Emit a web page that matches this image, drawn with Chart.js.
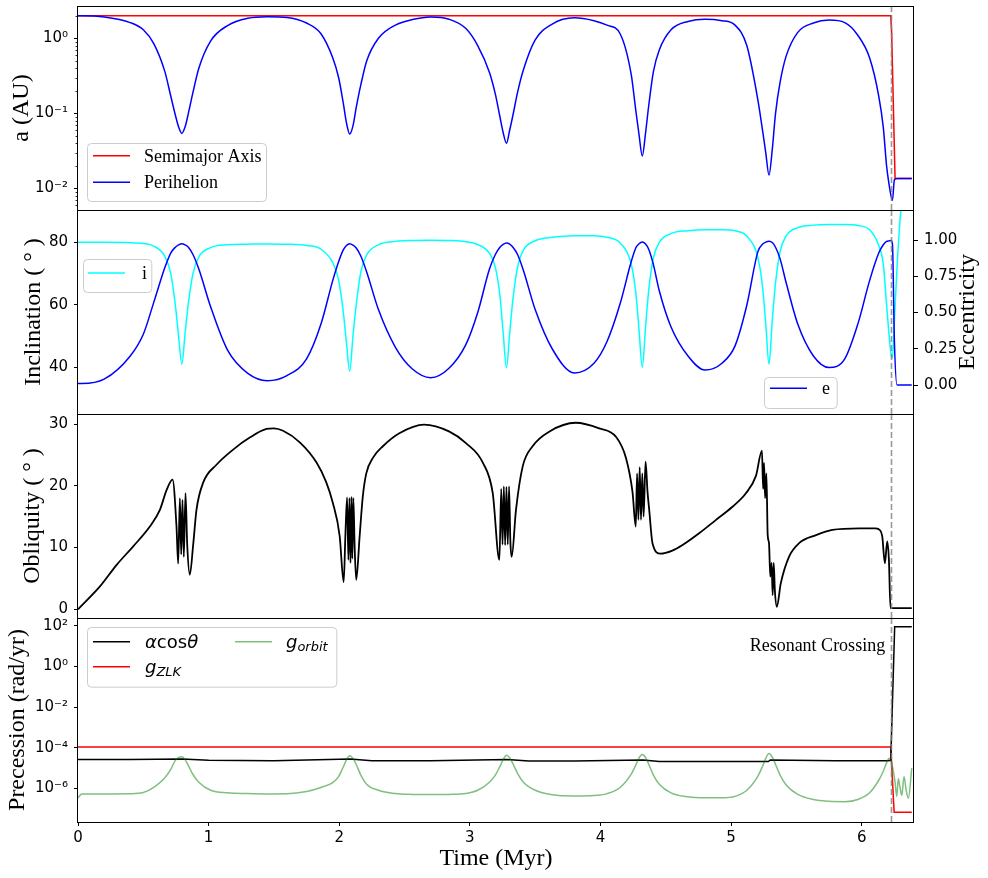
<!DOCTYPE html>
<html>
<head>
<meta charset="utf-8">
<title>Resonant crossing</title>
<script src="https://cdn.jsdelivr.net/npm/chart.js@4.4.1/dist/chart.umd.min.js"></script>
<style>
  body { margin: 0; background: #fff; }
  #fig { position: relative; width: 988px; height: 878px; overflow: hidden; background: #fff; }
  #fig canvas { position: absolute; left: 0; }
</style>
</head>
<body>
<div id="fig">
  <canvas id="pA" width="988" height="244" style="top:-14px"></canvas>
  <canvas id="pI" width="988" height="244" style="top:190px"></canvas>
  <canvas id="pO" width="988" height="244" style="top:394px"></canvas>
  <canvas id="pP" width="988" height="280" style="top:598px"></canvas>
</div>
<script>
// values (time in Myr)

const crossingT = 6.224;
const xTicks = [0, 1, 2, 3, 4, 5, 6];

const timeGrid = [0, 0.03, 0.2, 0.4, 0.5, 0.58, 0.665, 0.71, 0.745, 0.77,
  0.795, 0.82, 0.845, 0.88, 0.925, 1.015, 1.145, 1.3, 1.45, 1.6,
  1.75, 1.86, 1.95, 1.995, 2.03, 2.055, 2.08, 2.105, 2.13, 2.165,
  2.21, 2.3, 2.43, 2.56, 2.7, 2.84, 2.97, 3.06, 3.15, 3.195,
  3.23, 3.255, 3.28, 3.305, 3.33, 3.365, 3.41, 3.5, 3.63, 3.8,
  3.95, 4.05, 4.15, 4.235, 4.27, 4.295, 4.32, 4.345, 4.37, 4.405,
  4.45, 4.54, 4.67, 4.8, 4.93, 5.03, 5.12, 5.205, 5.24, 5.265,
  5.29, 5.315, 5.34, 5.375, 5.42, 5.51, 5.63, 5.75, 5.87, 5.97,
  6.06, 6.13, 6.165, 6.19, 6.21, 6.225, 6.235, 6.25, 6.27, 6.3, 6.383];

const perihelionAU = [2.0, 2.0, 1.93, 1.62, 1.3, 0.85, 0.36, 0.17, 0.095, 0.066,
  0.054, 0.066, 0.1, 0.19, 0.4, 0.92, 1.48, 1.85, 1.94, 1.9,
  1.6, 1.15, 0.55, 0.3, 0.14, 0.075, 0.053, 0.068, 0.12, 0.24,
  0.5, 1.0, 1.5, 1.78, 1.93, 1.8, 1.35, 0.8, 0.35, 0.18,
  0.09, 0.055, 0.04, 0.06, 0.095, 0.19, 0.38, 0.95, 1.55, 1.88,
  1.72, 1.5, 1.15, 0.33, 0.11, 0.052, 0.027, 0.055, 0.13, 0.36,
  0.7, 1.3, 1.68, 1.8, 1.72, 1.5, 0.8, 0.15, 0.06, 0.03,
  0.015, 0.033, 0.1, 0.26, 0.57, 1.2, 1.6, 1.75, 1.62, 1.1,
  0.55, 0.17, 0.065, 0.02, 0.011, 0.0078, 0.0069, 0.013, 0.0135, 0.0135, 0.0135];

const eccentricity = [0.01, 0.01, 0.04, 0.2, 0.35, 0.57, 0.81, 0.91, 0.95, 0.967,
  0.975, 0.967, 0.95, 0.9, 0.8, 0.54, 0.24, 0.08, 0.03, 0.065,
  0.18, 0.42, 0.72, 0.85, 0.93, 0.962, 0.975, 0.965, 0.945, 0.89,
  0.78, 0.52, 0.26, 0.11, 0.05, 0.115, 0.28, 0.5, 0.8, 0.9,
  0.95, 0.97, 0.98, 0.972, 0.95, 0.9, 0.79, 0.52, 0.25, 0.083,
  0.15, 0.3, 0.56, 0.85, 0.945, 0.974, 0.986, 0.972, 0.935, 0.83,
  0.65, 0.4, 0.2, 0.103, 0.15, 0.27, 0.55, 0.92, 0.97, 0.985,
  0.992, 0.983, 0.95, 0.87, 0.71, 0.42, 0.2, 0.12, 0.18, 0.42,
  0.72, 0.91, 0.967, 0.99, 0.994, 0.996, 0.97, 0.3, 0, 0, 0];

const inclinationDeg = [80, 80, 80, 79.9, 79.6, 78.8, 75.5, 70, 60, 50,
  41, 51, 60.5, 70, 75.3, 78.3, 79.2, 79.4, 79.5, 79.4,
  79, 77.8, 73.5, 68, 58, 48, 38.8, 50, 60, 70.5,
  76, 79.2, 80.3, 80.6, 80.7, 80.6, 80.2, 79.3, 76.5, 72,
  63, 51, 39.8, 51, 62, 72, 77.5, 80.5, 81.6, 82.1,
  82.1, 81.6, 79.8, 73, 64, 52, 40, 53, 65, 75,
  80, 82.8, 83.7, 84, 84, 83.7, 82, 75, 66, 54,
  41, 55, 67, 77, 82, 84.7, 85.5, 85.7, 85.7, 85.4,
  84, 79, 73, 60, 50, 44, 43, 55, 72, 90.5, 112];

const semimajorT = [0, 6.222, 6.229, 6.255, 6.383];
const semimajorAU = [2.0, 2.0, 1.17, 0.0135, 0.0135];

const obliquityT = [0, 0.168, 0.296, 0.423, 0.55, 0.627, 0.678, 0.724, 0.754, 0.767,
  0.78, 0.79, 0.8, 0.81, 0.823, 0.836, 0.856, 0.882, 0.907, 0.958,
  1.06, 1.19, 1.315, 1.443, 1.5, 1.57, 1.7, 1.825, 1.9, 1.95,
  2.003, 2.034, 2.047, 2.06, 2.07, 2.078, 2.086, 2.094, 2.1, 2.108,
  2.118, 2.13, 2.156, 2.18, 2.207, 2.26, 2.334, 2.46, 2.65, 2.84,
  2.97, 3.1, 3.175, 3.226, 3.24, 3.25, 3.26, 3.27, 3.28, 3.29,
  3.3, 3.31, 3.32, 3.353, 3.404, 3.48, 3.61, 3.81, 3.99, 4.12,
  4.195, 4.245, 4.27, 4.28, 4.29, 4.3, 4.31, 4.32, 4.33, 4.345,
  4.36, 4.373, 4.398, 4.46, 4.55, 4.628, 4.755, 4.88, 5.01, 5.11,
  5.19, 5.236, 5.245, 5.252, 5.26, 5.27, 5.28, 5.29, 5.3, 5.31,
  5.318, 5.326, 5.335, 5.35, 5.38, 5.443, 5.52, 5.65, 5.775, 5.98,
  6.106, 6.14, 6.157, 6.177, 6.195, 6.208, 6.22, 6.383];
const obliquityDeg = [0, 3.7, 7.2, 10.2, 13.4, 16.1, 19.3, 21.0, 13.4, 7.4,
  18.0, 8.9, 17.7, 8.5, 18.8, 10.5, 5.6, 10.5, 16.1, 20.5,
  23.4, 25.9, 27.8, 29.2, 29.3, 28.9, 27.0, 23.8, 20.6, 17.3,
  11.9, 4.4, 12, 18.1, 8, 18, 7.5, 18.2, 8.2, 18,
  10, 4.75, 11.8, 18.2, 22, 24.6, 26.4, 28.5, 29.9, 28.8,
  26.9, 23.7, 18.8, 8, 19.5, 10.5, 19.9, 10.4, 19.8, 10.5,
  19.9, 11, 8.5, 16.1, 23.1, 26.4, 28.8, 30.2, 29.3, 27.9,
  24.5, 19, 13.4, 22, 14.5, 23, 14.5, 22, 15, 23.9,
  19, 16.1, 10.7, 9.0, 9.5, 10.4, 12.3, 14.4, 16.6, 18.7,
  21.6, 25.7, 19.5, 23.7, 18, 22, 12, 10.7, 5.3, 7.5,
  2.3, 7.5, 3, 0.4, 4.2, 8.5, 10.7, 12.0, 12.85, 13.1,
  13.1, 12.8, 11.8, 7.45, 11, 8, 0.2, 0.2];

const alphaCosT = [0, 0.4, 0.8, 1.0, 1.5, 2.085, 2.25, 2.7, 3.286, 3.45, 3.8,
  4.327, 4.45, 4.8, 5.285, 5.3, 5.8, 6.2, 6.222, 6.252, 6.383];
const alphaCos = [2.6e-5, 2.6e-5, 2.8e-5, 2.4e-5, 2.3e-5, 2.8e-5, 2.3e-5, 2.3e-5, 2.6e-5, 2.2e-5, 2.2e-5,
  2.5e-5, 2.1e-5, 2.1e-5, 2.1e-5, 2.5e-5, 2.3e-5, 2.3e-5, 2.4e-5, 92, 92];

const gZlkT = [0, 6.222, 6.248, 6.383];
const gZlk = [1.1e-4, 1.1e-4, 6.6e-8, 6.6e-8];

const gOrbitT = timeGrid.slice(0, 85).concat(
  [6.225, 6.24, 6.255, 6.268, 6.28, 6.292, 6.306, 6.324, 6.34, 6.357, 6.383]);
const gOrbit = [3.5e-7, 5.2e-7, 5.3e-7, 5.4e-7, 6.2e-7, 1.1e-6, 3.3e-6, 8.5e-6, 2.4e-5, 3.3e-5,
  3.6e-5, 2.6e-5, 1.3e-5, 4.8e-6, 2e-6, 8e-7, 6e-7, 5.5e-7, 5.3e-7, 5.4e-7,
  7e-7, 1.1e-6, 1.9e-6, 3.8e-6, 1.1e-5, 2.5e-5, 4e-5, 3e-5, 1.5e-5, 4.5e-6,
  1.6e-6, 8e-7, 5.5e-7, 5e-7, 4.9e-7, 5e-7, 5.6e-7, 8e-7, 2e-6, 4.5e-6,
  1.2e-5, 2.6e-5, 4.3e-5, 3.2e-5, 1.6e-5, 5.5e-6, 2e-6, 8e-7, 4.8e-7, 4.2e-7,
  4.4e-7, 5.5e-7, 1.1e-6, 5e-6, 1.4e-5, 3.2e-5, 4.6e-5, 3.3e-5, 1.5e-5, 4.5e-6,
  1.6e-6, 6e-7, 3.8e-7, 3.4e-7, 3.4e-7, 4e-7, 8e-7, 4e-6, 1.2e-5, 3e-5,
  5.2e-5, 3.5e-5, 1.5e-5, 4.5e-6, 1.5e-6, 5e-7, 2.8e-7, 2.3e-7, 2.2e-7, 2.8e-7,
  6e-7, 2.5e-6, 7e-6, 1.8e-5, 3e-5,
  2.2e-5, 8e-6, 2e-6, 4e-7, 3e-6, 1.2e-6, 4.5e-7, 3.7e-6, 8e-7, 3.2e-7, 1e-5];

// tick values / labels
const aTicks = [0.01, 0.1, 1];
const aTickLabels = ['10⁻²', '10⁻¹', '10⁰'];
const incTicks = [40, 60, 80];
const eccTicks = [0, 0.25, 0.5, 0.75, 1];
const oblTicks = [0, 10, 20, 30];
const precTicks = [1e-6, 1e-4, 1e-2, 1, 100];
const precTickLabels = ['10⁻⁶', '10⁻⁴', '10⁻²', '10⁰', '10²'];

// ---------------------------------------------------------------

Chart.defaults.font.family = 'DejaVu Sans';
Chart.defaults.color = '#000';

const tickFont = {family: 'DejaVu Sans', size: 15};
const titleFont = {family: 'Liberation Serif', size: 24};
const SERIF = 'Liberation Serif';

// minor ticks for the a (AU) log axis
const aMinor = [];
for (let k = -3; k <= 0; k++) {
  for (let m = 2; m <= 9; m++) {
    const v = m * Math.pow(10, k);
    if (v > 0.0052 && v < 2.69) aMinor.push(v);
  }
}

// legends, notes etc. (offsets are relative to the chart area)
const deco = {
  pA: {
    minor: aMinor,
    legends: [{
      x: 9, y: 137, w: 179, h: 58, size: 18, family: SERIF,
      items: [
        {color: 'red', lx: 15, ly: 149.7, tx: 66, runs: [{t: 'Semimajor Axis'}]},
        {color: 'blue', lx: 15, ly: 176.3, tx: 66, runs: [{t: 'Perihelion'}]}
      ]
    }]
  },
  pI: {
    rightTitle: 'Eccentricity',
    legends: [
      {x: 4.7, y: 49.3, w: 68.3, h: 33, size: 18, family: SERIF,
       items: [{color: 'cyan', lx: 10, ly: 63, tx: 64, runs: [{t: 'i'}]}]},
      {x: 686, y: 166.7, w: 72.7, h: 31, size: 18, family: SERIF,
       items: [{color: 'blue', lx: 692, ly: 178.3, tx: 744, runs: [{t: 'e'}]}]}
    ]
  },
  pO: {},
  pP: {
    note: {text: 'Resonant Crossing', t: crossingT - 0.045, v: 10},
    legends: [{
      x: 8.7, y: 9.3, w: 249.3, h: 59.7, size: 18, family: 'DejaVu Sans',
      items: [
        {color: 'black', lx: 15, ly: 23.7, tx: 67,
         runs: [{t: 'α', it: 1}, {t: 'cos'}, {t: 'θ', it: 1}]},
        {color: 'red', lx: 15, ly: 48.7, tx: 67,
         runs: [{t: 'g', it: 1}, {t: 'ZLK', it: 1, sub: 1}]},
        {color: 'rgba(0,128,0,0.5)', lx: 157, ly: 23.7, tx: 208,
         runs: [{t: 'g', it: 1}, {t: 'orbit', it: 1, sub: 1}]}
      ]
    }]
  }
};

function boxPath(ctx, x, y, w, h, r) {
  ctx.beginPath();
  ctx.moveTo(x + r, y);
  ctx.lineTo(x + w - r, y);
  ctx.arcTo(x + w, y, x + w, y + r, r);
  ctx.lineTo(x + w, y + h - r);
  ctx.arcTo(x + w, y + h, x + w - r, y + h, r);
  ctx.lineTo(x + r, y + h);
  ctx.arcTo(x, y + h, x, y + h - r, r);
  ctx.lineTo(x, y + r);
  ctx.arcTo(x, y, x + r, y, r);
  ctx.closePath();
}

function drawRuns(ctx, runs, x, y, size, family) {
  runs.forEach(r => {
    const s = r.sub ? size * 0.72 : size;
    ctx.font = (r.it ? 'italic ' : '') + s + 'px "' + family + '"';
    ctx.fillText(r.t, x, y + (r.sub ? size * 0.2 : 0));
    x += ctx.measureText(r.t).width;
  });
}

function drawLegend(ctx, a, lg) {
  boxPath(ctx, Math.round(a.left + lg.x) + 0.5, Math.round(a.top + lg.y) + 0.5, lg.w, lg.h, 4);
  ctx.fillStyle = 'rgba(255,255,255,0.8)';
  ctx.fill();
  ctx.strokeStyle = '#cccccc';
  ctx.lineWidth = 1;
  ctx.stroke();
  lg.items.forEach(it => {
    ctx.strokeStyle = it.color;
    ctx.lineWidth = 1.5;
    ctx.beginPath();
    ctx.moveTo(a.left + it.lx, a.top + it.ly);
    ctx.lineTo(a.left + it.lx + 37, a.top + it.ly);
    ctx.stroke();
    ctx.fillStyle = '#000';
    ctx.textAlign = 'left';
    ctx.textBaseline = 'alphabetic';
    drawRuns(ctx, it.runs, a.left + it.tx, a.top + it.ly + 6, lg.size, lg.family);
  });
}

const decoPlugin = {
  id: 'deco',
  afterDatasetsDraw(chart) {
    const cfg = deco[chart.canvas.id] || {};
    const ctx = chart.ctx, a = chart.chartArea, sx = chart.scales.x;
    ctx.save();

    // resonance crossing
    const xc = Math.round(sx.getPixelForValue(crossingT)) + 0.5;
    ctx.strokeStyle = 'rgba(128,128,128,0.8)';
    ctx.lineWidth = 1.6;
    ctx.setLineDash([6, 3]);
    ctx.beginPath();
    ctx.moveTo(xc, a.top);
    ctx.lineTo(xc, a.bottom);
    ctx.stroke();
    ctx.setLineDash([]);

    if (cfg.minor) {
      const sy = chart.scales.y;
      ctx.strokeStyle = '#000';
      ctx.lineWidth = 0.8;
      cfg.minor.forEach(v => {
        const y = Math.round(sy.getPixelForValue(v)) + 0.5;
        ctx.beginPath();
        ctx.moveTo(a.left - 2.5, y);
        ctx.lineTo(a.left, y);
        ctx.stroke();
      });
    }

    // frame
    ctx.strokeStyle = '#000';
    ctx.lineWidth = 1;
    ctx.strokeRect(Math.round(a.left) - 0.5, Math.round(a.top) + 0.5,
      Math.round(a.right - a.left), Math.round(a.bottom - a.top));

    (cfg.legends || []).forEach(lg => drawLegend(ctx, a, lg));

    if (cfg.note) {
      const sy = chart.scales.y;
      ctx.fillStyle = '#000';
      ctx.font = '18px "' + SERIF + '"';
      ctx.textAlign = 'right';
      ctx.textBaseline = 'middle';
      ctx.fillText(cfg.note.text, sx.getPixelForValue(cfg.note.t), sy.getPixelForValue(cfg.note.v));
    }

    if (cfg.rightTitle) {
      ctx.translate(968, (a.top + a.bottom) / 2);
      ctx.rotate(-Math.PI / 2);
      ctx.fillStyle = '#000';
      ctx.font = '24px "' + SERIF + '"';
      ctx.textAlign = 'center';
      ctx.textBaseline = 'middle';
      ctx.fillText(cfg.rightTitle, 0, 0);
    }
    ctx.restore();
  }
};

function pts(xs, ys) {
  return xs.map((x, i) => ({x: x, y: ys[i]}));
}

function series(xs, ys, color, more) {
  return Object.assign({
    data: pts(xs, ys),
    borderColor: color,
    borderWidth: 1.5,
    pointRadius: 0,
    fill: false,
    cubicInterpolationMode: 'monotone'
  }, more || {});
}

function xScale(show) {
  return {
    type: 'linear', min: 0, max: 6.4, display: show,
    afterBuildTicks: s => { s.ticks = xTicks.map(v => ({value: v})); },
    afterFit: s => { s.height = show ? 56 : 0; },
    grid: {drawOnChartArea: false, tickLength: 4, tickColor: '#000'},
    border: {display: false},
    ticks: {padding: 3, color: '#000', font: tickFont, maxRotation: 0, autoSkip: false},
    title: {display: show, text: 'Time (Myr)', color: '#000', font: titleFont,
            padding: {top: 0, bottom: 5}}
  };
}

function yScale(o) {
  const right = o.position === 'right';
  return {
    type: o.type || 'linear',
    position: o.position || 'left',
    min: o.min, max: o.max,
    afterFit: s => { s.width = right ? 74 : 78; },
    afterBuildTicks: s => { s.ticks = o.ticks.map(v => ({value: v})); },
    grid: {drawOnChartArea: false, tickLength: 4, tickColor: '#000'},
    border: {display: false},
    ticks: {
      padding: 6, color: '#000', font: tickFont, autoSkip: false,
      callback: v => {
        if (o.labels) {
          const i = o.ticks.findIndex(t => Math.abs(t - v) <= Math.abs(t) * 1e-6);
          return i >= 0 ? o.labels[i] : '';
        }
        return o.fmt ? o.fmt(v) : String(v);
      }
    },
    title: {display: !!o.title, text: o.title, color: '#000', font: titleFont,
            padding: {top: o.titlePad || 0, bottom: 0}}
  };
}

function makePanel(id, pad, datasets, scales) {
  return new Chart(document.getElementById(id), {
    type: 'line',
    data: {datasets: datasets},
    options: {
      responsive: false,
      animation: false,
      devicePixelRatio: 1,
      layout: {padding: pad},
      plugins: {legend: {display: false}, tooltip: {enabled: false}},
      scales: scales
    },
    plugins: [decoPlugin]
  });
}

// a (AU)
makePanel('pA', {top: 20, bottom: 20, left: 0, right: 74}, [
  series(semimajorT, semimajorAU, 'red', {cubicInterpolationMode: 'default', tension: 0, order: 2}),
  series(timeGrid, perihelionAU, 'blue', {order: 1})
], {
  x: xScale(false),
  y: yScale({type: 'logarithmic', min: 0.00514, max: 2.697, ticks: aTicks, labels: aTickLabels,
             title: 'a (AU)', titlePad: 7.6})
});

// inclination / eccentricity
makePanel('pI', {top: 20, bottom: 20, left: 0, right: 0}, [
  series(timeGrid, inclinationDeg, 'cyan', {yAxisID: 'y', order: 2}),
  series(timeGrid, eccentricity, 'blue', {yAxisID: 'y2', order: 1})
], {
  x: xScale(false),
  y: yScale({min: 25.06, max: 90.34, ticks: incTicks, title: 'Inclination ( ° )', titlePad: 19.6}),
  y2: yScale({position: 'right', min: -0.2, max: 1.207, ticks: eccTicks, fmt: v => v.toFixed(2)})
});

// obliquity
makePanel('pO', {top: 20, bottom: 20, left: 0, right: 74}, [
  series(obliquityT, obliquityDeg, 'black', {borderWidth: 1.8})
], {
  x: xScale(false),
  y: yScale({min: -1.41, max: 31.62, ticks: oblTicks, title: 'Obliquity ( ° )', titlePad: 18})
});

// precession frequencies
makePanel('pP', {top: 20, bottom: 0, left: 0, right: 74}, [
  series(alphaCosT, alphaCos, 'black', {cubicInterpolationMode: 'default', tension: 0, order: 2}),
  series(gZlkT, gZlk, 'red', {cubicInterpolationMode: 'default', tension: 0, order: 3}),
  series(gOrbitT, gOrbit, 'rgba(0,128,0,0.5)', {order: 1})
], {
  x: xScale(true),
  y: yScale({type: 'logarithmic', min: 2.19e-8, max: 247.8, ticks: precTicks, labels: precTickLabels,
             title: 'Precession (rad/yr)', titlePad: 3})
});
</script>
</body>
</html>
